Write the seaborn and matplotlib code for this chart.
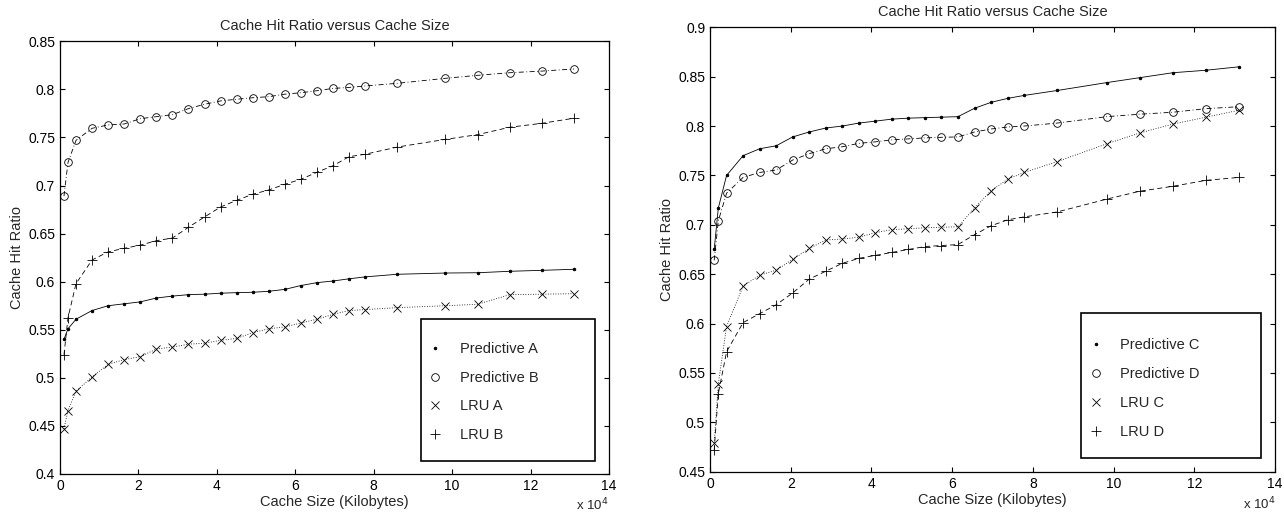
import matplotlib
matplotlib.use('Agg')
import matplotlib.pyplot as plt
import matplotlib.ticker as mticker
from matplotlib.patches import Rectangle
import seaborn as sns

# cache sizes in kilobytes (shared by both panels)
cache_kb = [1024, 2048, 4096, 8192, 12288, 16384, 20480, 24576, 28672, 32768,
            36864, 40960, 45056, 49152, 53248, 57344, 61440, 65536, 69632,
            73728, 77824, 86016, 98304, 106496, 114688, 122880, 131072]

# left panel
predictive_a = [0.540, 0.551, 0.561, 0.570, 0.575, 0.577, 0.579, 0.583, 0.585,
                0.5865, 0.587, 0.588, 0.5886, 0.589, 0.590, 0.592, 0.596, 0.599,
                0.6007, 0.603, 0.605, 0.6077, 0.609, 0.6093, 0.6108, 0.6118, 0.6129]
predictive_b = [0.689, 0.724, 0.747, 0.7595, 0.763, 0.764, 0.7695, 0.7716, 0.7737,
                0.780, 0.7845, 0.788, 0.7897, 0.7913, 0.7924, 0.795, 0.7965, 0.7986,
                0.801, 0.802, 0.8035, 0.8063, 0.8115, 0.8146, 0.8173, 0.819, 0.8212]
lru_a = [0.447, 0.466, 0.486, 0.501, 0.514, 0.519, 0.522, 0.530, 0.532, 0.535,
         0.536, 0.539, 0.541, 0.547, 0.551, 0.553, 0.557, 0.561, 0.566, 0.570,
         0.571, 0.573, 0.575, 0.5765, 0.5865, 0.587, 0.5875]
lru_b = [0.524, 0.5625, 0.598, 0.6226, 0.631, 0.6347, 0.638, 0.6426, 0.6454,
         0.6566, 0.6673, 0.6777, 0.6846, 0.6909, 0.6954, 0.7013, 0.7065, 0.7138,
         0.7206, 0.730, 0.7325, 0.740, 0.748, 0.7529, 0.7606, 0.7647, 0.770]

# right panel
predictive_c = [0.675, 0.717, 0.750, 0.770, 0.777, 0.780, 0.789, 0.794, 0.798,
                0.800, 0.803, 0.805, 0.807, 0.808, 0.8085, 0.809, 0.8095, 0.818,
                0.824, 0.828, 0.831, 0.836, 0.844, 0.849, 0.854, 0.8565, 0.860]
predictive_d = [0.664, 0.704, 0.732, 0.748, 0.753, 0.7555, 0.7656, 0.772, 0.777,
                0.779, 0.7825, 0.784, 0.786, 0.787, 0.788, 0.7886, 0.789, 0.794,
                0.797, 0.799, 0.800, 0.803, 0.8095, 0.812, 0.814, 0.8176, 0.8196]
lru_c = [0.479, 0.539, 0.597, 0.638, 0.649, 0.654, 0.665, 0.676, 0.6846, 0.6856,
         0.6874, 0.692, 0.695, 0.696, 0.697, 0.6975, 0.698, 0.717, 0.7345, 0.746,
         0.753, 0.764, 0.782, 0.793, 0.802, 0.809, 0.816]
lru_d = [0.472, 0.529, 0.5715, 0.601, 0.610, 0.619, 0.631, 0.645, 0.653, 0.661,
         0.666, 0.669, 0.672, 0.675, 0.678, 0.679, 0.680, 0.690, 0.699, 0.705,
         0.708, 0.713, 0.726, 0.734, 0.739, 0.745, 0.748]

left_series = [('Predictive A', predictive_a), ('Predictive B', predictive_b),
               ('LRU A', lru_a), ('LRU B', lru_b)]
right_series = [('Predictive C', predictive_c), ('Predictive D', predictive_d),
                ('LRU C', lru_c), ('LRU D', lru_d)]

# one look per position in the legend: solid/dot, dash-dot/circle, dotted/x, dashed/plus
looks = [dict(linestyle='-', marker='.', markersize=3.5),
         dict(linestyle=(0, (6, 3, 1, 3)), marker='o', markersize=5.5,
              markerfacecolor='none', markeredgewidth=0.6),
         dict(linestyle=(0, (1, 2)), marker='x', markersize=5.5, markeredgewidth=0.6),
         dict(linestyle=(0, (6, 4)), marker='+', markersize=6.5, markeredgewidth=0.6)]

sns.set_theme(style='ticks')
plt.rcParams['font.family'] = ['Liberation Sans', 'DejaVu Sans']
plt.rcParams.update({'xtick.direction': 'in', 'ytick.direction': 'in',
                     'xtick.top': True, 'ytick.right': True,
                     'xtick.major.size': 3.5, 'ytick.major.size': 3.5,
                     'axes.linewidth': 0.9, 'font.size': 10})

fig = plt.figure(figsize=(12.84, 5.16), dpi=100)
ax1 = fig.add_axes([0.0467, 0.0814, 0.4276, 0.8386])
ax2 = fig.add_axes([0.553, 0.0859, 0.44, 0.8612])

# legend box in axes fractions
box = (0.657, 0.031, 0.318, 0.327)


def draw_panel(ax, series, ylim, ystep, spacing, nudge):
    for (name, vals), look in zip(series, looks):
        sns.lineplot(x=cache_kb, y=vals, ax=ax, color='black', linewidth=0.6,
                     label=name, markeredgecolor='black', **look)
    ax.set_xlim(0, 140000)
    ax.set_ylim(*ylim)
    ax.xaxis.set_major_locator(mticker.MultipleLocator(20000))
    ax.yaxis.set_major_locator(mticker.MultipleLocator(ystep))
    ax.xaxis.set_major_formatter(mticker.FuncFormatter(lambda v, p: f'{v / 1e4:g}'))
    ax.yaxis.set_major_formatter(mticker.FuncFormatter(lambda v, p: f'{v:g}'))
    ax.tick_params(labelsize=10, width=0.8, colors='black')
    ax.set_title('Cache Hit Ratio versus Cache Size', fontsize=10.5, pad=8.2)
    ax.set_xlabel('Cache Size (Kilobytes)', fontsize=10.5, labelpad=1.5)
    ax.set_ylabel('Cache Hit Ratio', fontsize=10.5, labelpad=3)
    for s in ax.spines.values():
        s.set_color('black')
    ax.text(1.0, -0.085, r'x 10$^4$', transform=ax.transAxes, ha='right',
            va='baseline', fontsize=9.5)

    ax.add_patch(Rectangle(box[:2], box[2], box[3], transform=ax.transAxes,
                           facecolor='white', edgecolor='black', linewidth=1.2,
                           zorder=4))
    leg = ax.legend(loc='center left',
                    bbox_to_anchor=(box[0], box[1] + box[3] / 2 - nudge),
                    borderaxespad=0, frameon=False, labelspacing=spacing,
                    borderpad=0.5, handlelength=1.0, handletextpad=1.17,
                    fontsize=10.5)
    leg.set_zorder(5)
    for h in leg.legend_handles:
        h.set_linestyle('none')


draw_panel(ax1, left_series, (0.4, 0.85), 0.05, 0.99, 0.005)
draw_panel(ax2, right_series, (0.45, 0.9), 0.05, 1.04, 0.007)

fig.savefig('out.png', dpi=100)
